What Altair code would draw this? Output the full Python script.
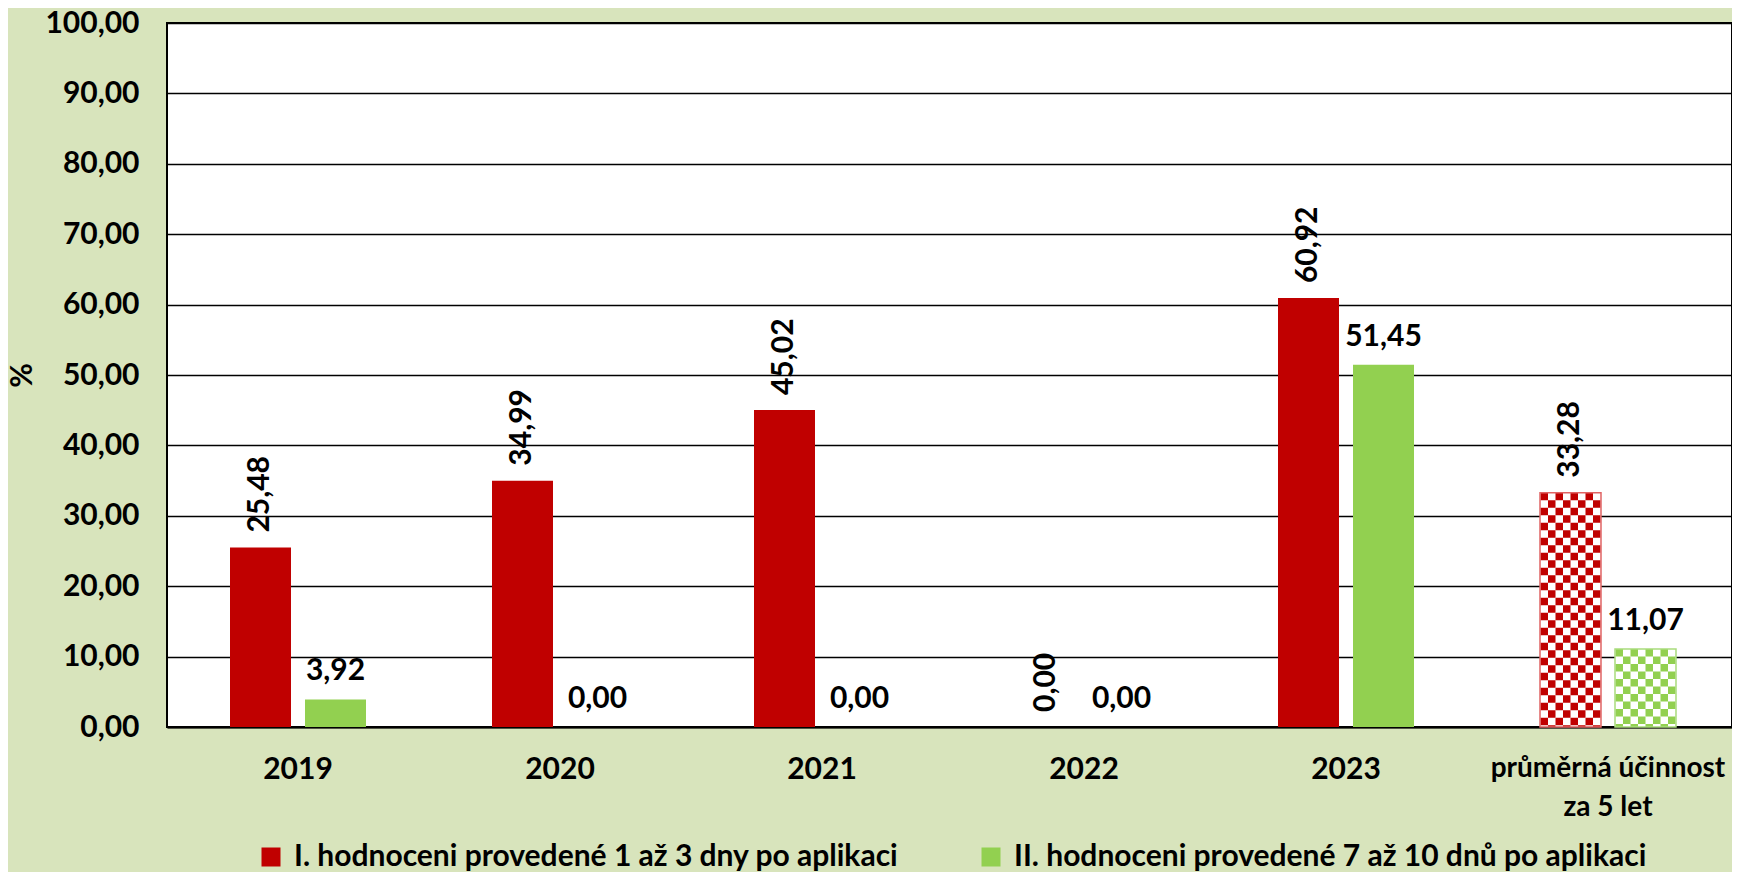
import altair as alt
import pandas as pd

categories = ["2019", "2020", "2021", "2022", "2023", "průměrná účinnost za 5 let"]
series = ["I. hodnoceni provedené 1 až 3 dny po aplikaci",
          "II. hodnoceni provedené 7 až 10 dnů po aplikaci"]
values_I = [25.48, 34.99, 45.02, 0.00, 60.92, 33.28]
values_II = [3.92, 0.00, 0.00, 0.00, 51.45, 11.07]
y_ticks = [0, 10, 20, 30, 40, 50, 60, 70, 80, 90, 100]

colors = ["#C00000", "#92D050"]
outline_colors = ["#E06464", "#A9DB7C"]
avg_cat = categories[-1]
FONT = "Lato"
FS = 30

rows = []
for c, a, b in zip(categories, values_I, values_II):
    rows.append({"cat": c, "series": series[0], "value": a})
    rows.append({"cat": c, "series": series[1], "value": b})
df = pd.DataFrame(rows)
df["label"] = df["value"].map(lambda v: f"{v:.2f}".replace(".", ","))

x_enc = alt.X("cat:N", sort=categories,
              scale=alt.Scale(paddingInner=0, paddingOuter=0, range=[0, 1572]),
              axis=alt.Axis(title=None, labelAngle=0, ticks=False, domain=True,
                            domainColor="black", domainWidth=2,
                            labelFont=FONT,
                            labelFontSize={"condition": {"test": "datum.value == '" + avg_cat + "'", "value": 28}, "value": FS},
                            labelFontWeight="bold",
                            labelColor="black", labelPadding=27, labelLineHeight=39,
                            labelBaseline="top", labelLimit=500,
                            labelExpr="datum.label == '" + avg_cat + "' ? ['průměrná účinnost', 'za 5 let'] : datum.label"))
xoff_enc = alt.XOffset("series:N", sort=series,
                       scale=alt.Scale(paddingInner=0.1867, paddingOuter=0.84))
y_enc = alt.Y("value:Q", scale=alt.Scale(domain=[0, 100], nice=False),
              axis=alt.Axis(values=y_ticks, title="%", ticks=False, domain=False,
                            grid=True, gridColor="black", gridWidth=1.5,
                            labelFont=FONT, labelFontSize=FS, labelFontWeight="bold",
                            labelColor="black", labelPadding=28,
                            labelExpr="replace(format(datum.value, '.2f'), '.', ',')",
                            titleFont=FONT, titleFontSize=FS, titleFontWeight="bold",
                            titleColor="black", titleAngle=270, titleX=-145, titleY=352,
                            titleAlign="center", titleBaseline="middle"))

base = alt.Chart(df)

solid = base.transform_filter(alt.datum.cat != avg_cat).mark_bar().encode(
    x=x_enc, xOffset=xoff_enc, y=y_enc,
    color=alt.Color("series:N", sort=series,
                    scale=alt.Scale(domain=series, range=colors),
                    legend=alt.Legend(title=None, orient="none", direction="horizontal",
                                      legendX=89, legendY=819,
                                      symbolType="square", symbolSize=361,
                                      symbolStrokeWidth=0, labelFont=FONT,
                                      labelFontSize=FS, labelFontWeight="bold",
                                      labelColor="black", labelOffset=8,
                                      labelLimit=1000, columnPadding=77)),
)

avg_bg = base.transform_filter(alt.datum.cat == avg_cat).mark_bar(
    fill="white", strokeWidth=0).encode(x=x_enc, xOffset=xoff_enc, y=y_enc)

# checkered pattern for the 5-year average bars
checker_layers = []
n_cols = 8
cell = 7.5
for i, s in enumerate(series):
    shift = -37.5 if i == 0 else 37.5
    for j in range(n_cols):
        off = shift - (n_cols - 1) * cell / 2 + j * cell
        checker_layers.append(
            base.transform_filter((alt.datum.cat == avg_cat) & (alt.datum.series == s))
            .mark_rule(xOffset=off, strokeWidth=cell, strokeDash=[cell, cell],
                       strokeDashOffset=(cell if j % 2 else 0), color=colors[i])
            .encode(x=x_enc, y=y_enc, y2=alt.datum(0))
        )

avg_outline = base.transform_filter(alt.datum.cat == avg_cat).mark_bar(
    fillOpacity=0, strokeWidth=1.5).encode(
    x=x_enc, xOffset=xoff_enc, y=y_enc,
    stroke=alt.Stroke("series:N", sort=series,
                      scale=alt.Scale(domain=series, range=outline_colors), legend=None),
)

labels_I = base.transform_filter(alt.datum.series == series[0]).mark_text(
    angle=270, align="left", baseline="middle", dx=15,
    font=FONT, fontSize=FS, fontWeight="bold", color="black").encode(
    x=x_enc, xOffset=xoff_enc, y=y_enc, text="label:N")

labels_II = base.transform_filter(alt.datum.series == series[1]).mark_text(
    align="center", baseline="alphabetic", dy=-19,
    font=FONT, fontSize=FS, fontWeight="bold", color="black").encode(
    x=x_enc, xOffset=xoff_enc, y=y_enc, text="label:N")

chart = alt.layer(solid, avg_bg, *checker_layers, avg_outline, labels_I, labels_II).properties(
    width=1565, height=704,
    background="#D8E4BC",
    autosize=alt.AutoSizeParams(type="none"),
    padding={"left": 159, "top": 15, "right": 0, "bottom": 145},
).resolve_scale(color="independent", stroke="independent").configure_view(
    fill="white", stroke="black", strokeWidth=2
)

chart.save("out.html", embed_options={"renderer": "svg", "actions": False})
